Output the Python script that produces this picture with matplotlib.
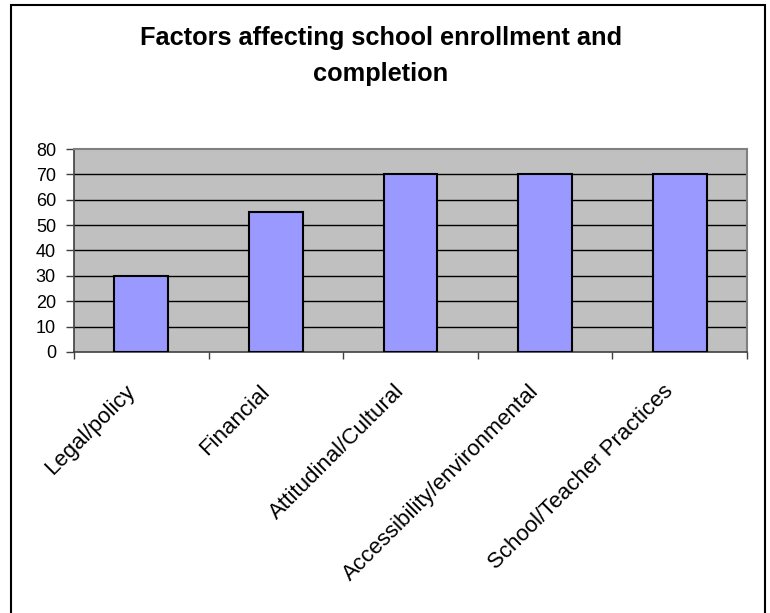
import matplotlib
matplotlib.use("Agg")
from matplotlib import pyplot as plt
from matplotlib.patches import Rectangle
from matplotlib.transforms import ScaledTranslation

categories = ["Legal/policy", "Financial", "Attitudinal/Cultural",
              "Accessibility/environmental", "School/Teacher Practices"]
values = [30, 55, 70, 70, 70]
yticks = [0, 10, 20, 30, 40, 50, 60, 70, 80]

plt.rcParams["font.family"] = ["Liberation Sans", "DejaVu Sans"]

W, H = 770, 613
fig = plt.figure(figsize=(W / 100, H / 100), dpi=100)

# outer chart border (bottom edge runs off the image)
fig.patches.append(Rectangle((11 / W, -0.02), (765 - 11) / W, 1.02 - 5 / H,
                             transform=fig.transFigure, fill=False,
                             edgecolor="black", linewidth=1.5))

ax = fig.add_axes([74 / W, 1 - 352 / H, (747 - 74) / W, (352 - 149) / H])
ax.set_facecolor("#C0C0C0")

x = list(range(len(categories)))
ax.bar(x, values, width=0.4, color="#9999FF", edgecolor="black",
       linewidth=1.5, zorder=3)

ax.set_xlim(-0.5, len(categories) - 0.5)
ax.set_ylim(0, 80)
ax.set_yticks(yticks)
ax.set_yticklabels([str(v) for v in yticks], fontsize=13)
for v in yticks[1:-1]:
    ax.axhline(v, color="black", linewidth=1, zorder=1)

ax.set_xticks([i - 0.5 for i in range(len(categories) + 1)])
ax.set_xticklabels([])
ax.tick_params(axis="x", length=5, width=1, color="#404040")
ax.tick_params(axis="y", length=6, width=1, color="#404040", pad=7)

# rotated category labels
offset = ScaledTranslation(-17 / 100, -29 / 100, fig.dpi_scale_trans)
for i, name in enumerate(categories):
    ax.text(i, 0, name, transform=ax.get_xaxis_transform() + offset,
            rotation=45, rotation_mode="anchor", ha="right", va="top",
            fontsize=16)

for side in ["left", "bottom"]:
    ax.spines[side].set_color("#404040")
    ax.spines[side].set_linewidth(1.2)
for side in ["top", "right"]:
    ax.spines[side].set_color("#808080")
    ax.spines[side].set_linewidth(1.5)

fig.text(381 / W, 1 - 56 / H,
         "Factors affecting school enrollment and\ncompletion",
         ha="center", va="center", fontsize=18.3, fontweight="bold",
         linespacing=1.58)

fig.savefig("out.png", dpi=100)
